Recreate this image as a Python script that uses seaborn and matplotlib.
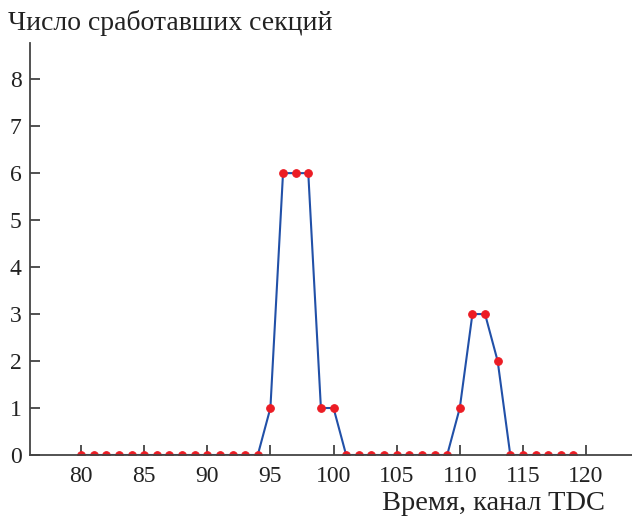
import matplotlib
matplotlib.use("Agg")
import matplotlib.pyplot as plt
import seaborn as sns
import pandas as pd

channels = list(range(80, 120))
counts = [0]*15 + [1, 6, 6, 6, 1, 1] + [0]*9 + [1, 3, 3, 2] + [0]*6
x_ticks = [80, 85, 90, 95, 100, 105, 110, 115, 120]
y_ticks = [0, 1, 2, 3, 4, 5, 6, 7, 8]

df = pd.DataFrame({"channel": channels, "count": counts})

sns.set_theme(style="ticks")
plt.rcParams['font.family'] = ['Liberation Serif', 'DejaVu Serif']

fig = plt.figure(figsize=(6.32, 5.18), dpi=100)
ax = fig.add_axes([30/632, 63/518, 1 - 30/632, (455-43)/518])

sns.lineplot(data=df, x="channel", y="count", ax=ax, color="#2150a8",
             linewidth=1.5, marker="o", markersize=5.5,
             markerfacecolor="#ec1c24", markeredgecolor="#ec1c24")

ax.set_xlim(75.96, 123.64)
ax.set_ylim(0, 8.77)
ax.set_xticks(x_ticks)
ax.set_yticks(y_ticks)
ax.tick_params(direction="in", length=7, width=1.2, color="#333333",
               labelsize=17, labelcolor="#222222")
ax.tick_params(axis="x", pad=8)
ax.tick_params(axis="y", pad=6)
for s in ["top", "right"]:
    ax.spines[s].set_visible(False)
for s in ["left", "bottom"]:
    ax.spines[s].set_color("#444444")
    ax.spines[s].set_linewidth(1.3)
ax.set_xlabel("")
ax.set_ylabel("")
fig.text(8/632, 1 - 23/518, "Число сработавших секций", fontsize=20,
         color="#222222", ha="left", va="center")
fig.text(605/632, 1 - 503/518, "Время, канал TDC", fontsize=20.5,
         color="#222222", ha="right", va="center")

fig.savefig("out.png", dpi=100)
